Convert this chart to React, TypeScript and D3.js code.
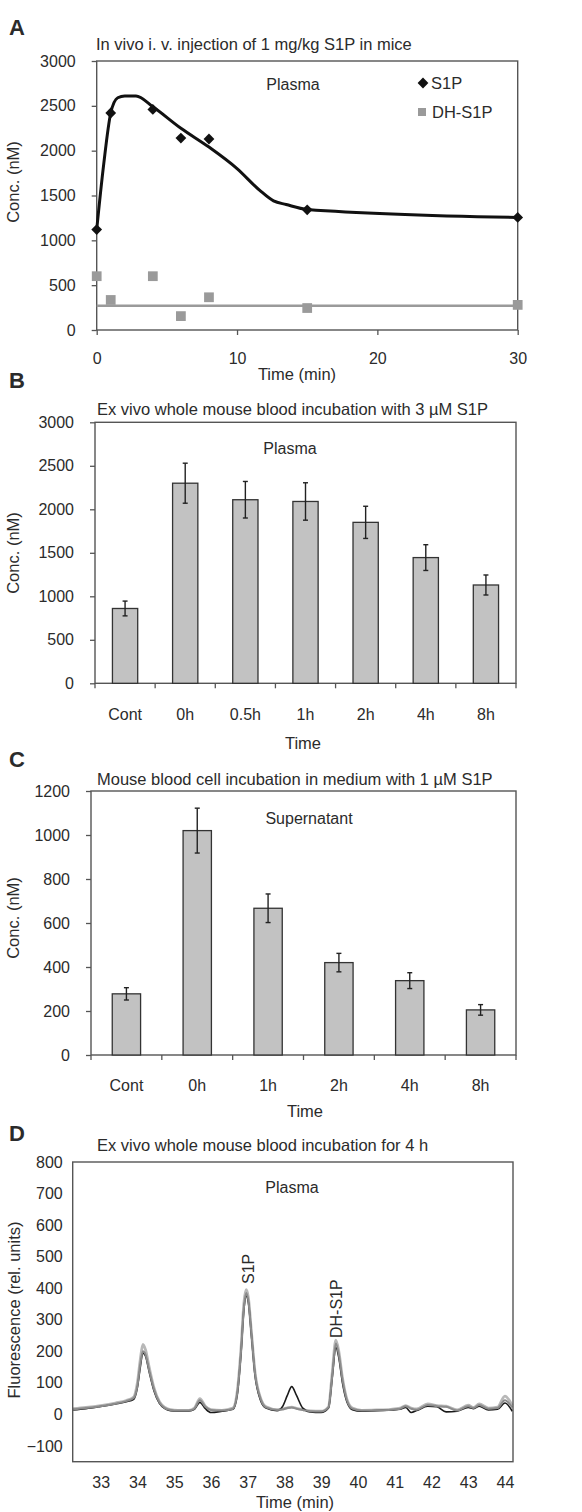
import { useEffect, useRef } from "react";
import * as d3 from "d3";

const FONT = "'Liberation Sans', Arial, Helvetica, sans-serif";
const INK = "#2b2b2b";
const FRAME = "#555";

// ---- Panel A: in vivo i.v. injection ----
const timeA = [0, 1, 4, 6, 8, 15, 30];
const s1pA = [1120, 2420, 2460, 2140, 2130, 1340, 1255];
const dhS1pA = [600, 335, 600, 155, 365, 245, 280];
const fitTimeA = [0, 0.5, 1, 1.5, 2, 2.8, 4, 6, 8, 10, 11.6, 12.6, 13.5, 15, 30];
const fitS1pA = [1120, 1850, 2420, 2590, 2610, 2610, 2490, 2250, 2040, 1800, 1560, 1440, 1400, 1345, 1255];
const fitDhTimeA = [0, 30];
const fitDhA = [270, 270];
const yTicksA = [0, 500, 1000, 1500, 2000, 2500, 3000];
const xTicksA = [0, 10, 20, 30];

// ---- Panel B: ex vivo whole blood, plasma ----
const catsB = ["Cont", "0h", "0.5h", "1h", "2h", "4h", "8h"];
const meansB = [860, 2300, 2110, 2090, 1850, 1445, 1130];
const errB = [85, 230, 210, 215, 185, 148, 115];
const yTicksB = [0, 500, 1000, 1500, 2000, 2500, 3000];

// ---- Panel C: blood cells in medium, supernatant ----
const catsC = ["Cont", "0h", "1h", "2h", "4h", "8h"];
const meansC = [278, 1020, 667, 420, 338, 205];
const errC = [28, 102, 65, 42, 36, 24];
const yTicksC = [0, 200, 400, 600, 800, 1000, 1200];

// ---- Panel D: chromatogram ----
const chromTime = [
    32.25, 32.6, 33.0, 33.4, 33.7, 33.9, 34.0, 34.08, 34.15, 34.22, 34.32, 34.45, 34.6,
    34.75, 34.9, 35.1, 35.4, 35.55, 35.7, 35.85, 36.0, 36.3, 36.6, 36.72, 36.82, 36.9,
    36.96, 37.02, 37.1, 37.2, 37.35, 37.5, 37.8, 37.95, 38.08, 38.2, 38.33, 38.5, 38.7,
    39.0, 39.2, 39.3, 39.4, 39.48, 39.58, 39.7, 39.85, 40.1, 40.5, 40.9, 41.15, 41.3,
    41.45, 41.6, 41.9, 42.15, 42.4, 42.7, 43.0, 43.15, 43.3, 43.55, 43.8, 44.0, 44.2,
];
const traceLight = [
    18, 22, 28, 36, 44, 55, 100, 175, 222, 205, 150, 85, 40, 22, 15, 13, 13, 20, 50, 26, 15,
    13, 20, 75, 210, 355, 395, 370, 265, 135, 52, 24, 15, 17, 21, 23, 19, 15, 11, 10, 24,
    130, 235, 200, 115, 48, 20, 13, 14, 16, 20, 28, 20, 17, 33, 28, 26, 14, 29, 22, 33, 20,
    23, 58, 28,
];
const traceGray = [
    16, 20, 26, 34, 42, 52, 90, 160, 200, 190, 140, 80, 38, 20, 14, 12, 12, 18, 45, 24, 14,
    12, 18, 70, 200, 340, 385, 360, 260, 130, 50, 22, 14, 16, 20, 22, 18, 14, 10, 9, 22,
    120, 225, 190, 110, 45, 18, 12, 13, 15, 18, 26, 18, 15, 30, 26, 24, 12, 26, 20, 30, 18,
    20, 45, 22,
];
const traceBlack = [
    14, 18, 25, 33, 40, 48, 85, 150, 195, 185, 135, 75, 35, 18, 12, 11, 11, 16, 38, 18, 6,
    10, 16, 65, 195, 335, 375, 355, 255, 125, 45, 20, 12, 25, 60, 88, 60, 20, 8, 6, 20,
    115, 212, 180, 100, 40, 15, 10, 12, 14, 16, 22, 6, 12, 26, 24, 8, 10, 22, 18, 26, 14,
    16, 36, 10,
];
const yTicksD = [-100, 0, 100, 200, 300, 400, 500, 600, 700, 800];
const xTicksD = [33, 34, 35, 36, 37, 38, 39, 40, 41, 42, 43, 44];

const App = () => {
    const svgRef = useRef<SVGSVGElement>(null);

    useEffect(() => {
        const svg = d3.select(svgRef.current);
        svg.selectAll("*").remove();

        const addText = (x, y, txt, size, anchor = "start", weight = "normal") =>
            svg
                .append("text")
                .attr("x", x)
                .attr("y", y)
                .attr("font-size", size)
                .attr("font-weight", weight)
                .attr("text-anchor", anchor)
                .attr("fill", INK)
                .text(txt);

        const addVText = (x, y, txt, size, anchor = "middle") =>
            svg
                .append("text")
                .attr("transform", `translate(${x},${y}) rotate(-90)`)
                .attr("font-size", size)
                .attr("text-anchor", anchor)
                .attr("dominant-baseline", "middle")
                .attr("fill", INK)
                .text(txt);

        const styleAxis = (g, size = 16) => {
            g.select(".domain").remove();
            g.selectAll("line").attr("stroke", FRAME).attr("stroke-width", 1.3);
            g.selectAll("text").attr("font-size", size).attr("font-family", FONT).attr("fill", INK);
        };

        const frame = (left, top, right, bottom) =>
            svg
                .append("rect")
                .attr("x", left)
                .attr("y", top)
                .attr("width", right - left)
                .attr("height", bottom - top)
                .attr("fill", "none")
                .attr("stroke", FRAME)
                .attr("stroke-width", 1.4);

        const plain = d3.format("d");

        // ================= Panel A =================
        {
            const left = 96.7, right = 517.7, top = 61, bottom = 330;
            const x = d3.scaleLinear().domain([0, 30]).range([left, right]);
            const y = d3.scaleLinear().domain([0, 3000]).range([bottom, top]);

            addText(9, 35, "A", 22, "start", "bold");
            addText(96, 50, "In vivo i. v. injection of 1 mg/kg S1P in mice", 16.5);

            frame(left, top, right, bottom);

            svg.append("g")
                .attr("transform", `translate(${left},0)`)
                .call(d3.axisLeft(y).tickValues(yTicksA).tickFormat(plain).tickSize(5).tickSizeOuter(0).tickPadding(16))
                .call(styleAxis);

            svg.append("g")
                .attr("transform", `translate(0,${bottom})`)
                .call(d3.axisBottom(x).tickValues(xTicksA).tickFormat(plain).tickSize(5).tickSizeOuter(0).tickPadding(18))
                .call(styleAxis);

            addVText(15, 182, "Conc. (nM)", 16.5);
            addText(297, 380, "Time (min)", 16.5, "middle");
            addText(293, 90, "Plasma", 16, "middle");

            // DH-S1P fit line
            svg.append("path")
                .datum(fitDhA)
                .attr("d", d3.line<number>().x((d, i) => x(fitDhTimeA[i])).y((d) => y(d)))
                .attr("fill", "none")
                .attr("stroke", "#9a9a9a")
                .attr("stroke-width", 2.6);

            // S1P fit curve
            svg.append("path")
                .datum(fitS1pA)
                .attr("d", d3.line<number>().x((d, i) => x(fitTimeA[i])).y((d) => y(d)).curve(d3.curveMonotoneX))
                .attr("fill", "none")
                .attr("stroke", "#111")
                .attr("stroke-width", 3)
                .attr("stroke-linejoin", "round");

            const diamond = d3.symbol().type(d3.symbolSquare).size(58)();
            const square = d3.symbol().type(d3.symbolSquare).size(95)();

            svg.selectAll(null)
                .data(dhS1pA)
                .enter()
                .append("path")
                .attr("d", square)
                .attr("transform", (d, i) => `translate(${x(timeA[i])},${y(d)})`)
                .attr("fill", "#9a9a9a");

            svg.selectAll(null)
                .data(s1pA)
                .enter()
                .append("path")
                .attr("d", diamond)
                .attr("transform", (d, i) => `translate(${x(timeA[i])},${y(d)}) rotate(45)`)
                .attr("fill", "#111");

            // legend
            svg.append("path").attr("d", diamond).attr("transform", "translate(423,83) rotate(45)").attr("fill", "#111");
            addText(431, 89, "S1P", 16.5);
            svg.append("path").attr("d", d3.symbol().type(d3.symbolSquare).size(64)()).attr("transform", "translate(422,112)").attr("fill", "#9a9a9a");
            addText(432, 118, "DH-S1P", 16.5);
        }

        // ================= Bar panels B & C =================
        const drawBars = ({ left, right, top, bottom, cats, means, errs, yMax, yTicks, barRatio }) => {
            const x = d3.scaleBand().domain(cats).range([left, right]);
            const y = d3.scaleLinear().domain([0, yMax]).range([bottom, top]);

            frame(left, top, right, bottom);

            svg.append("g")
                .attr("transform", `translate(${left},0)`)
                .call(d3.axisLeft(y).tickValues(yTicks).tickFormat(plain).tickSize(5).tickSizeOuter(0).tickPadding(16))
                .call(styleAxis);

            svg.append("g")
                .attr("transform", `translate(0,${bottom})`)
                .call(d3.axisBottom(x).tickSize(0).tickPadding(25))
                .call(styleAxis);

            // category boundary ticks
            svg.append("g")
                .selectAll("line")
                .data([...cats.map((c) => x(c)), right])
                .enter()
                .append("line")
                .attr("x1", (d) => d)
                .attr("x2", (d) => d)
                .attr("y1", bottom)
                .attr("y2", bottom + 5)
                .attr("stroke", FRAME)
                .attr("stroke-width", 1.3);

            const bw = x.bandwidth() * barRatio;
            svg.append("g")
                .selectAll("rect")
                .data(means)
                .enter()
                .append("rect")
                .attr("x", (d, i) => x(cats[i]) + (x.bandwidth() - bw) / 2)
                .attr("y", (d) => y(d))
                .attr("width", bw)
                .attr("height", (d) => bottom - y(d))
                .attr("fill", "#c2c2c2")
                .attr("stroke", "#333")
                .attr("stroke-width", 1.3);

            const err = svg.append("g").attr("stroke", "#222").attr("stroke-width", 1.4);
            means.forEach((m, i) => {
                const cx = x(cats[i]) + x.bandwidth() / 2;
                err.append("line").attr("x1", cx).attr("x2", cx).attr("y1", y(m + errs[i])).attr("y2", y(m - errs[i]));
                err.append("line").attr("x1", cx - 2.5).attr("x2", cx + 2.5).attr("y1", y(m + errs[i])).attr("y2", y(m + errs[i]));
                err.append("line").attr("x1", cx - 2.5).attr("x2", cx + 2.5).attr("y1", y(m - errs[i])).attr("y2", y(m - errs[i]));
            });
        };

        // Panel B
        addText(9, 388, "B", 22, "start", "bold");
        addText(97, 415, "Ex vivo whole mouse blood incubation with 3 \u00b5M S1P", 16.5);
        drawBars({
            left: 95, right: 516, top: 422.3, bottom: 683.3,
            cats: catsB, means: meansB, errs: errB, yMax: 3000, yTicks: yTicksB, barRatio: 0.42,
        });
        addText(290, 454, "Plasma", 16, "middle");
        addVText(15, 553, "Conc. (nM)", 16.5);
        addText(303, 749, "Time", 16.5, "middle");

        // Panel C
        addText(9, 767, "C", 22, "start", "bold");
        addText(97, 785, "Mouse blood cell incubation in medium with 1 \u00b5M S1P", 16.5);
        drawBars({
            left: 91, right: 516, top: 791, bottom: 1055,
            cats: catsC, means: meansC, errs: errC, yMax: 1200, yTicks: yTicksC, barRatio: 0.4,
        });
        addText(309, 824, "Supernatant", 16, "middle");
        addVText(15, 918, "Conc. (nM)", 16.5);
        addText(305, 1117, "Time", 16.5, "middle");

        // ================= Panel D =================
        {
            const left = 72.7, right = 513, top = 1162, bottom = 1461.7;
            const x = d3.scaleLinear().domain([32.24, 44.22]).range([left, right]);
            const y = d3.scaleLinear().domain([-150, 800]).range([bottom, top]);

            addText(9, 1141, "D", 22, "start", "bold");
            addText(97, 1151, "Ex vivo whole mouse blood incubation for 4 h", 16.5);

            svg.append("g")
                .attr("transform", `translate(${left},0)`)
                .call(d3.axisLeft(y).tickValues(yTicksD).tickFormat(plain).tickSize(0).tickPadding(10))
                .call(styleAxis);

            svg.append("g")
                .attr("transform", `translate(0,${bottom})`)
                .call(d3.axisBottom(x).tickValues(xTicksD).tickFormat(plain).tickSize(0).tickPadding(15))
                .call(styleAxis);

            const line = d3.line<number>().x((d, i) => x(chromTime[i])).y((d) => y(d)).curve(d3.curveMonotoneX);

            svg.append("path").datum(traceLight).attr("d", line).attr("fill", "none").attr("stroke", "#b8b8b8").attr("stroke-width", 2.8);
            svg.append("path").datum(traceBlack).attr("d", line).attr("fill", "none").attr("stroke", "#1a1a1a").attr("stroke-width", 1.6);
            svg.append("path").datum(traceGray).attr("d", line).attr("fill", "none").attr("stroke", "#8c8c8c").attr("stroke-width", 2);

            frame(left, top, right, bottom);

            addText(292, 1193, "Plasma", 16, "middle");
            addVText(250, 1284, "S1P", 16, "start");
            addVText(338, 1338, "DH-S1P", 16, "start");
            addVText(16, 1310, "Fluorescence (rel. units)", 16.5);
            addText(295, 1508, "Time (min)", 16.5, "middle");
        }
    }, []);

    return (
        <svg
            ref={svgRef}
            width={582}
            height={1512}
            style={{ position: "absolute", left: 0, top: 0, background: "#fff", fontFamily: FONT }}
        ></svg>
    );
};

export default App;
